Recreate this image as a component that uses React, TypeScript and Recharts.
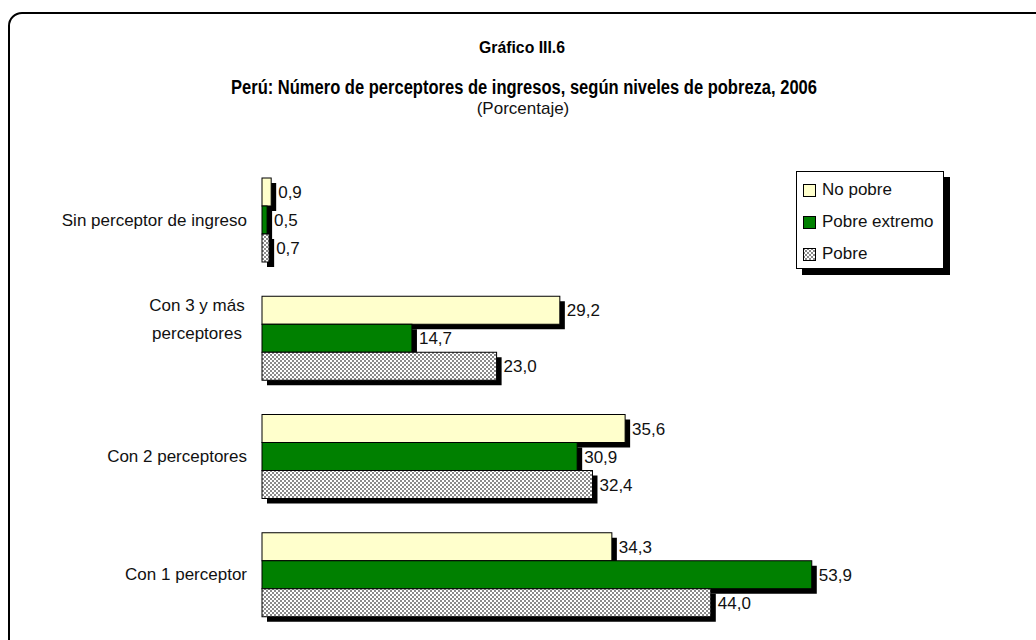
import { BarChart, Bar, XAxis, YAxis, LabelList, Legend } from 'recharts';

const categories = ['Sin perceptor de ingreso', 'Con 3 y más perceptores', 'Con 2 perceptores', 'Con 1 perceptor'];
const tickLines = [['Sin perceptor de ingreso'], ['Con 3 y más', 'perceptores'], ['Con 2 perceptores'], ['Con 1 perceptor']];
const noPobre      = [0.9, 29.2, 35.6, 34.3];
const pobreExtremo = [0.5, 14.7, 30.9, 53.9];
const pobre        = [0.7, 23.0, 32.4, 44.0];

const FONT = '"Liberation Sans", Arial, sans-serif';
const FS = 17;

const data = categories.map((name, i) => ({
  name,
  noPobre: noPobre[i],
  pobreExtremo: pobreExtremo[i],
  pobre: pobre[i],
}));

const series = [
  { key: 'noPobre', label: 'No pobre', fill: '#FFFFCC' },
  { key: 'pobreExtremo', label: 'Pobre extremo', fill: '#008000' },
  { key: 'pobre', label: 'Pobre', fill: 'url(#checker)' },
];

const fmt = (v: number) => v.toFixed(1).replace('.', ',');

function ShadowBar(props: any) {
  const { x, y, width, height, fill } = props;
  if (width == null || height == null) return null;
  return (
    <g>
      <rect x={x + 5} y={y + 5} width={width} height={height} fill="#000" />
      <rect x={x} y={y} width={width} height={height} fill={fill} stroke="#000" strokeWidth={1} />
    </g>
  );
}

function CategoryTick(props: any) {
  const { y, payload } = props;
  const idx = categories.indexOf(payload.value);
  const lines = tickLines[idx] ?? [payload.value];
  if (lines.length === 1) {
    return (
      <text x={247} y={y} textAnchor="end" dominantBaseline="central" fontSize={FS} fill="#111" fontFamily={FONT}>
        {lines[0]}
      </text>
    );
  }
  return (
    <g>
      {lines.map((l, i) => (
        <text key={i} x={197} y={y - 33 + i * 28} textAnchor="middle" dominantBaseline="central" fontSize={FS} fill="#111" fontFamily={FONT}>
          {l}
        </text>
      ))}
    </g>
  );
}

function LegendBox() {
  return (
    <div style={{
      width: 148, height: 98, border: '1px solid #000', background: '#fff',
      boxShadow: '6px 6px 0 #000', fontFamily: FONT, fontSize: FS, color: '#111',
      paddingTop: 2, boxSizing: 'border-box', textAlign: 'left',
    }}>
      {series.map((s) => (
        <div key={s.key} style={{ display: 'flex', alignItems: 'center', height: 32 }}>
          <svg width={13} height={13} style={{ marginLeft: 6, marginRight: 6, flex: 'none' }}>
            <rect x={0.5} y={0.5} width={12} height={12} fill={s.fill} stroke="#000" strokeWidth={1} />
          </svg>
          <span style={{ whiteSpace: 'nowrap' }}>{s.label}</span>
        </div>
      ))}
    </div>
  );
}

export default function App() {
  return (
    <div style={{ position: 'absolute', left: 0, top: 0, width: 1036, height: 640, overflow: 'hidden', background: '#fff' }}>
      <svg width={0} height={0} style={{ position: 'absolute' }}>
        <defs>
          <pattern id="checker" width={4} height={4} patternUnits="userSpaceOnUse">
            <rect width={4} height={4} fill="#fff" />
            <rect x={0} y={0} width={2} height={2} fill="#8a8a8a" />
            <rect x={2} y={2} width={2} height={2} fill="#8a8a8a" />
          </pattern>
        </defs>
      </svg>
      <div style={{
        position: 'absolute', left: 8, top: 12, width: 1100, height: 700,
        border: '2px solid #000', borderTopLeftRadius: 14,
      }} />
      <svg width={1036} height={130} style={{ position: 'absolute', left: 0, top: 0 }}>
        <text x={522} y={53} textAnchor="middle" fontSize={17} fontWeight={600} fontFamily={FONT} fill="#000" textLength={86} lengthAdjust="spacingAndGlyphs">Gráfico  III.6</text>
        <text x={524} y={94} textAnchor="middle" fontSize={20} fontWeight={600} fontFamily={FONT} fill="#000" textLength={586} lengthAdjust="spacingAndGlyphs">
          Perú: Número de perceptores de ingresos, según niveles de pobreza, 2006
        </text>
        <text x={523} y={114} textAnchor="middle" fontSize={FS} fontFamily={FONT} fill="#111">(Porcentaje)</text>
      </svg>
      <div style={{ position: 'absolute', left: 0, top: 0 }}>
        <BarChart
          width={1036}
          height={640}
          data={data}
          layout="vertical"
          margin={{ top: 161, right: 162, bottom: 6, left: 0 }}
          barCategoryGap={17}
          barGap={0}
        >
          <XAxis type="number" domain={[0, 60]} hide />
          <YAxis type="category" dataKey="name" width={262} axisLine={false} tickLine={false} tick={<CategoryTick />} interval={0} />
          <Legend
            layout="vertical"
            align="center"
            verticalAlign="middle"
            content={() => <LegendBox />}
            wrapperStyle={{ position: 'absolute', left: 796, top: 171, width: 'auto', height: 'auto' }}
          />
          {series.map((s) => (
            <Bar key={s.key} dataKey={s.key} name={s.label} fill={s.fill} shape={<ShadowBar />} isAnimationActive={false}>
              <LabelList
                dataKey={s.key}
                position="right"
                offset={7}
                formatter={(v: any) => fmt(Number(v))}
                style={{ fill: '#111', fontSize: FS, fontFamily: FONT }}
              />
            </Bar>
          ))}
        </BarChart>
      </div>
    </div>
  );
}
